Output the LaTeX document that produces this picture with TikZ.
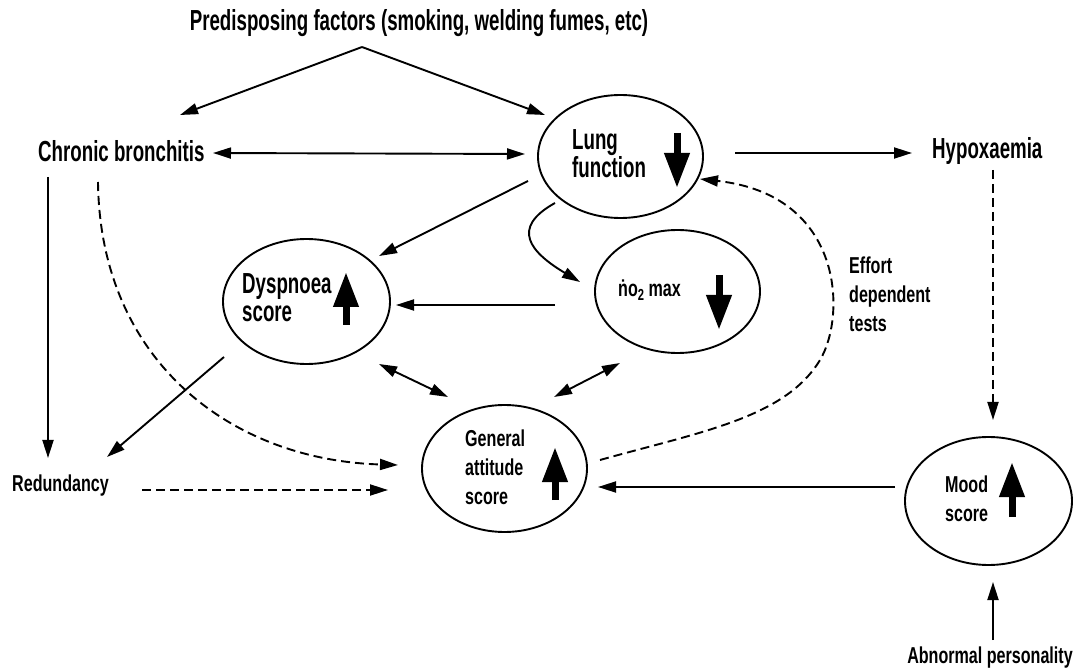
\documentclass[tikz,border=0pt]{standalone}
\usepackage{fontspec}
\setmainfont{Liberation Sans}
\newfontfamily\mainf{Liberation Sans}[FakeStretch=0.645]
\newfontfamily\smallf{Liberation Sans}[FakeStretch=0.7]
\usetikzlibrary{arrows.meta,shapes.geometric}
\newcommand\bigfnt[1]{\mainf\bfseries\fontsize{29}{#1}\selectfont\lineskiplimit=-50pt\relax}
\newcommand\smallfnt[1]{\smallf\bfseries\fontsize{23}{#1}\selectfont\lineskiplimit=-50pt\relax}
\tikzset{
  conn/.style={line width=1.9pt,-{Triangle[length=18pt,width=11pt]}},
  dconn/.style={conn,dash pattern=on 9pt off 5pt},
  both/.style={line width=1.9pt,{Triangle[length=18pt,width=11pt]}-{Triangle[length=18pt,width=11pt]}},
  ell/.style={draw,ellipse,line width=1.9pt,inner sep=0pt},
  bigarrow/.style={line width=7pt,-{Triangle[length=35pt,width=24pt]}},
  big/.style={inner sep=0pt,font=\bigfnt{29}},
  small/.style={inner sep=0pt,font=\smallfnt{23}}
}
\begin{document}
\begin{tikzpicture}[x=1pt,y=-1pt]
\path[fill=white] (0,0) rectangle (1088,668);
\useasboundingbox (0,0) rectangle (1088,668);

% ellipses
\node[ell,minimum width=165pt,minimum height=123pt] (lung) at (620.5,156.5) {};
\node[ell,minimum width=167pt,minimum height=125pt] (dys) at (306.5,301.5) {};
\node[ell,minimum width=165pt,minimum height=123pt] (vo2) at (677.5,291.5) {};
\node[ell,minimum width=165pt,minimum height=127pt] (gen) at (504.5,468.5) {};
\node[ell,minimum width=167pt,minimum height=128pt] (mood) at (988.5,501) {};

% labels
\node[big,anchor=base] (pred) at (419,31) {Predisposing factors (smoking, welding fumes, etc)};
\node[big,anchor=base west] (cb) at (38,162) {Chronic bronchitis};
\node[big,anchor=base west] (hyp) at (932,159) {Hypoxaemia};
\node[small,anchor=base west] (red) at (12,492) {Redundancy};
\node[small,anchor=base] (abn) at (990,663) {Abnormal personality};
\node[inner sep=0pt,font=\bigfnt{27.5},align=left,anchor=west] (lungt) at (572,153.6) {Lung\\function};
\node[inner sep=0pt,font=\bigfnt{28.7},align=left,anchor=west] (dyst) at (242,297.8) {Dyspnoea\\score};
\node[small,anchor=base west] (vo2t) at (618,297) {\.{n}o{\fontsize{16}{16}\selectfont\raisebox{-4pt}{2}} max};
\node[inner sep=0pt,font=\smallfnt{28.8},align=left,anchor=west] (gent) at (465,467) {General\\attitude\\score};
\node[inner sep=0pt,font=\smallfnt{29},align=left,anchor=west] (moodt) at (945,498.8) {Mood\\score};
\node[inner sep=0pt,font=\smallfnt{28.8},align=left,anchor=west] (eff) at (849,294.5) {Effort\\dependent\\tests};

% big arrows inside ellipses
\draw[bigarrow] ([shift={(56.5,-23.5)}]lung.center) -- ([shift={(56.5,31.5)}]lung.center);
\draw[bigarrow] ([shift={(39.5,23.5)}]dys.center) -- ([shift={(39.5,-29.5)}]dys.center);
\draw[bigarrow] ([shift={(41.5,-16.5)}]vo2.center) -- ([shift={(41.5,38.5)}]vo2.center);
\draw[bigarrow] ([shift={(50.5,31.5)}]gen.center) -- ([shift={(50.5,-21.5)}]gen.center);
\draw[bigarrow] ([shift={(23.5,16)}]mood.center) -- ([shift={(23.5,-39)}]mood.center);

% connectors
\coordinate (apex) at ([shift={(-57,16)}]pred.base);
\draw[conn] (apex) -- ([shift={(142,-47)}]cb.base west);
\draw[conn] (apex) -- ([shift={(-75.5,-41.5)}]lung.center);
\draw[both] ([shift={(175,-9)}]cb.base west) -- ([shift={(-95.5,-2.5)}]lung.center);
\draw[conn] ([shift={(114.5,-3.5)}]lung.center) -- ([shift={(-20,-6)}]hyp.base west);
\draw[dconn] ([shift={(61,11)}]hyp.base west) -- ([shift={(4.5,-81)}]mood.center);
\draw[conn] ([shift={(3,-23)}]abn.base) -- ([shift={(4.5,81)}]mood.center);
\draw[conn] ([shift={(-93.5,-14)}]mood.center) -- ([shift={(93.5,18.5)}]gen.center);
\draw[dconn] ([shift={(130,-2)}]red.base west) -- ([shift={(-116.5,21.5)}]gen.center);
\draw[conn] ([shift={(10,15)}]cb.base west) -- ([shift={(36,-34)}]red.base west);
\draw[dconn] ([shift={(60,20)}]cb.base west) .. controls (100,360) and (230,460) .. ([shift={(-106.5,-3.5)}]gen.center);
\draw[conn] ([shift={(-92.5,24.5)}]lung.center) -- ([shift={(72.5,-45.5)}]dys.center);
\draw[conn] ([shift={(-65.5,46.5)}]lung.center) .. controls (510,228) and (530,252) .. ([shift={(-97.5,-9.5)}]vo2.center);
\draw[conn] ([shift={(-122.5,13.5)}]vo2.center) -- ([shift={(89.5,3.5)}]dys.center);
\draw[both] ([shift={(72.5,62.5)}]dys.center) -- ([shift={(-56.5,-71.5)}]gen.center);
\draw[both] ([shift={(49.5,-71.5)}]gen.center) -- ([shift={(-57.5,71.5)}]vo2.center);
\draw[conn] ([shift={(-82.5,55.5)}]dys.center) -- ([shift={(95,-35)}]red.base west);
\draw[dconn] ([shift={(95.5,-8.5)}]gen.center) .. controls (700,432) and (785,418) .. (820,360)
  .. controls (846,317) and (845,195) .. ([shift={(79.5,22.5)}]lung.center);
\end{tikzpicture}
\end{document}
